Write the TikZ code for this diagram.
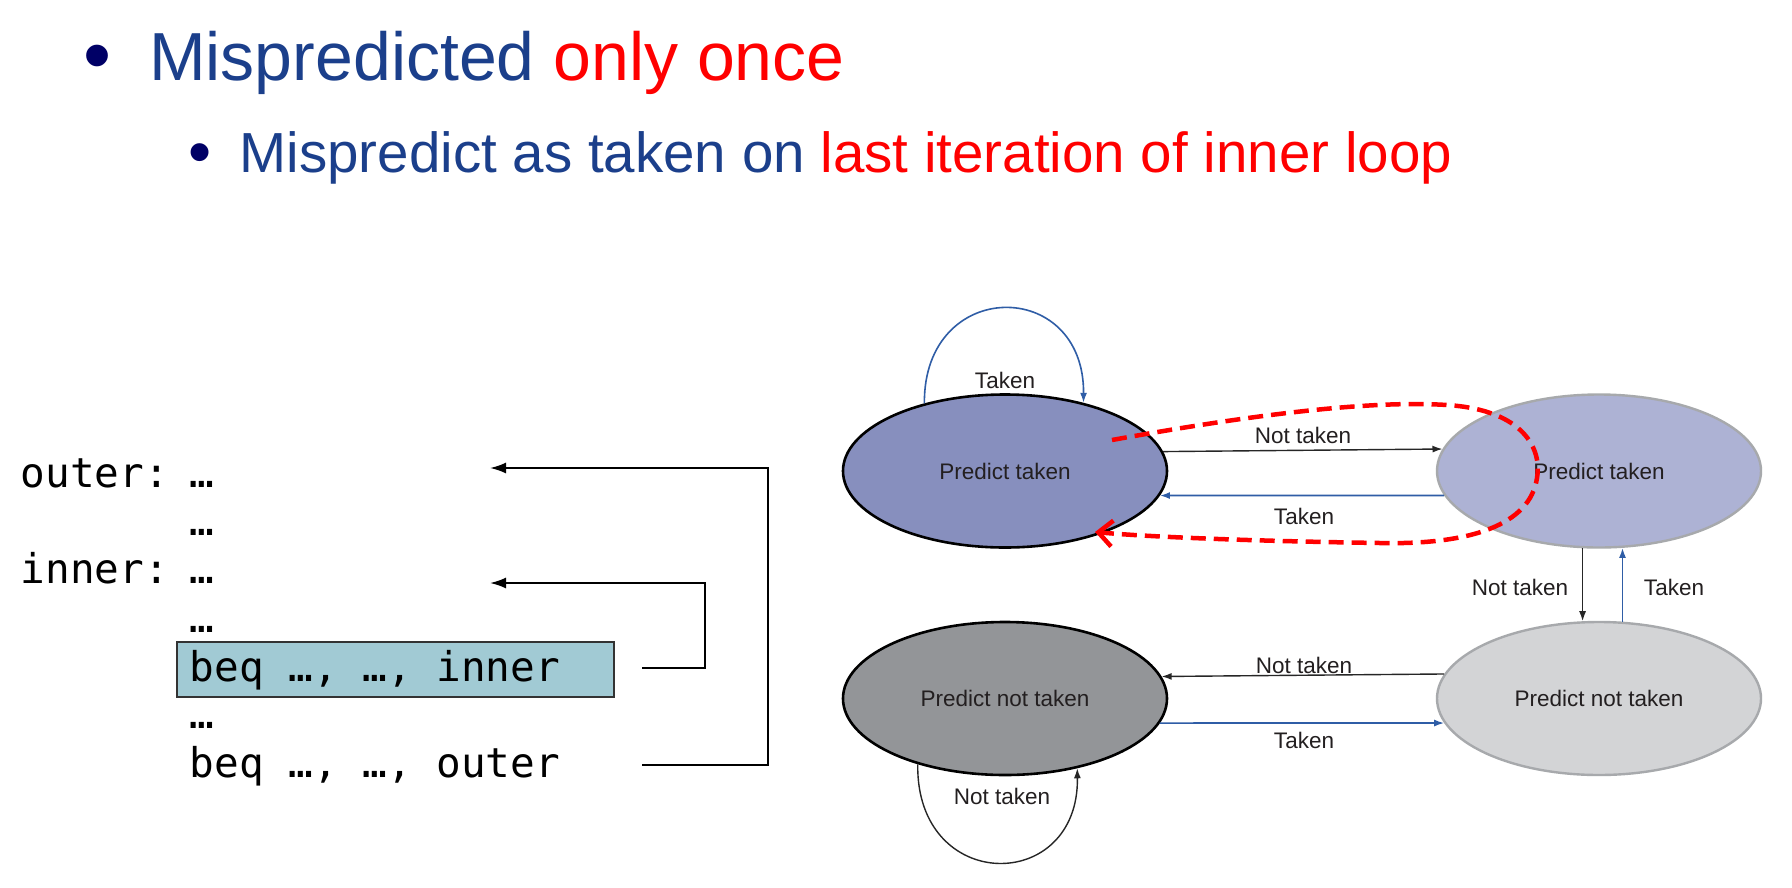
\documentclass[tikz,border=0pt]{standalone}
\usepackage{fontspec}
\setmainfont{Liberation Sans}
\setmonofont{DejaVu Sans Mono}
\usetikzlibrary{shapes.geometric,arrows.meta}
\definecolor{titleblue}{HTML}{1B3F8B}
\definecolor{bulletnavy}{HTML}{000066}
\definecolor{edgeblue}{HTML}{2F5DA6}
\definecolor{fillA}{HTML}{878FBE}
\definecolor{fillB}{HTML}{ADB2D4}
\definecolor{fillC}{HTML}{939598}
\definecolor{fillD}{HTML}{D3D4D6}
\definecolor{rimgray}{HTML}{A7A9AC}
\definecolor{boxteal}{HTML}{A1CAD4}
\definecolor{lbltext}{HTML}{231F20}
\begin{document}
\begin{tikzpicture}[x=1pt,y=-1pt,
  state/.style={ellipse, minimum width=324pt, minimum height=153pt, inner sep=0pt,
    font=\fontsize{22.5}{26}\selectfont, text=lbltext},
  strongstate/.style={state, draw=black, line width=2.6pt},
  weakstate/.style={state, draw=rimgray, line width=2.4pt},
  lbl/.style={font=\fontsize{22.5}{26}\selectfont, text=lbltext, inner sep=0pt},
  ntedge/.style={draw=black!85, line width=1.4pt, -{Latex[length=10pt,width=7pt]}},
  tkedge/.style={draw=edgeblue, line width=1.6pt, -{Latex[length=10pt,width=7pt]}},
  code/.style={font=\ttfamily\fontsize{41}{48}\selectfont, anchor=base west, inner sep=0pt},
  jump/.style={line width=2pt, -{Latex[length=16pt,width=11pt]}},
  hint/.style={draw=red, line width=4.5pt, dash pattern=on 15pt off 8pt,
    -{Straight Barb[length=14pt,width=26pt]}},
  title/.style={anchor=base west, inner sep=0pt, text=titleblue},
  bul/.style={text=bulletnavy, inner sep=0pt},
]
\fill[white] (0,0) rectangle (1792,887);
\useasboundingbox (0,0) rectangle (1792,887);

% titles
\node[bul, font=\fontsize{80}{90}\selectfont] (b1) at (98,64) {•};
\node[title, font=\fontsize{68}{80}\selectfont] (t1) at (149,80) {Mispredicted \textcolor{red}{only once}};
\node[bul, font=\fontsize{66}{76}\selectfont] (b2) at (200,159) {•};
\node[title, font=\fontsize{56.5}{66}\selectfont] (t2) at (239.5,172) {Mispredict as taken on \textcolor{red}{last iteration of inner loop}};

% code
\node[draw=black!80, line width=2pt, fill=boxteal, minimum width=437pt, minimum height=55pt, inner sep=0pt] (box) at (395.5,669.5) {};
\node[code] (outerlbl) at (20.5,487) {outer:};
\node[code] (d1) at (189.5,487) {…};
\node[code] (d2) at (189.5,535.5) {…};
\node[code] (innerlbl) at (20.5,583.5) {inner:};
\node[code] (d3) at (189.5,583.5) {…};
\node[code] (d4) at (189.5,632) {…};
\node[code] (beqi) at (189.5,681) {beq …, …, inner};
\node[code] (d5) at (189.5,728.5) {…};
\node[code] (beqo) at (189.5,777) {beq …, …, outer};

\coordinate (oT) at (490,468);
\coordinate (oS) at (642,765);
\coordinate (iT) at (490,583);
\coordinate (iS) at (642,668);
\draw[jump] (oS) -- ++(126,0) |- (oT);
\draw[jump] (iS) -- ++(63,0) |- (iT);

% states
\node[strongstate, fill=fillA] (pt1) at (1005,471) {Predict taken};
\node[weakstate, fill=fillB] (pt2) at (1599,471) {Predict taken};
\node[strongstate, fill=fillC] (pn1) at (1005,698.5) {Predict not taken};
\node[weakstate, fill=fillD] (pn2) at (1599,698.5) {Predict not taken};

% edges
\draw[ntedge] (pt1.7.7) -- (pt2.172.3);
\draw[tkedge] (pt2.189.3) -- (pt1.-9.3);
\draw[ntedge] (pn2.171.5) -- (pn1.8.5);
\draw[tkedge] (pn1.-9.3) -- (pn2.189.3);
\draw[ntedge] (pt2.258) -- (pn2.102);
\draw[tkedge] (pn2.73) -- (pt2.287);
\draw[tkedge] (pt1.140) .. controls +(-1,-126) and +(1,-126) .. (pt1.41);
\draw[ntedge] (pn1.217) .. controls +(-2,130) and +(2,126) .. (pn1.316);

% labels
\node[lbl] (lA) at (1005,380) {Taken};
\node[lbl] (lB) at (1303,435) {Not taken};
\node[lbl] (lC) at (1304,516) {Taken};
\node[lbl] (lD) at (1520,587) {Not taken};
\node[lbl] (lE) at (1674,587) {Taken};
\node[lbl] (lF) at (1304,665) {Not taken};
\node[lbl] (lG) at (1304,740) {Taken};
\node[lbl] (lH) at (1002,796) {Not taken};

% hint loop
\coordinate (hs) at (1112,440);
\coordinate (he) at (1095,532);
\draw[hint] (hs) .. controls (1250,415) and (1370,400) .. (1447,405)
  .. controls (1525,410) and (1542,450) .. (1537,478)
  .. controls (1530,525) and (1470,545) .. (1380,543)
  .. controls (1250,541) and (1150,537) .. (he);
\end{tikzpicture}
\end{document}
